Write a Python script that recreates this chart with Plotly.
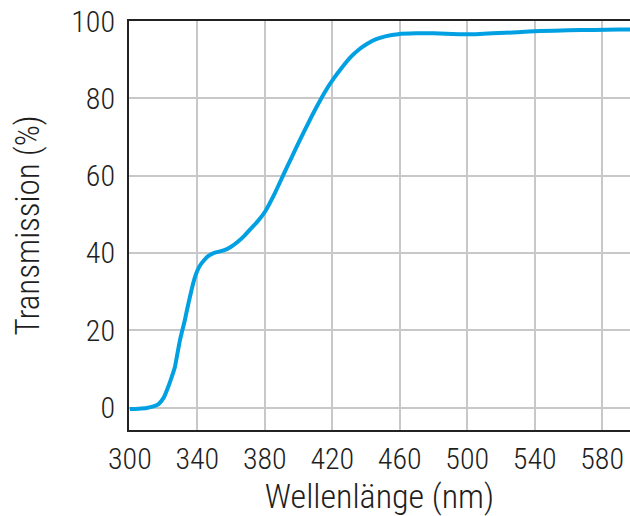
import plotly.graph_objects as go

wavelength = [300, 305, 310, 314, 317, 320, 322.6, 324.5, 326.6, 328, 329.6, 331, 332.5, 334,
              335.5, 337, 338.5, 340, 341.5, 344, 346.4, 350, 356, 360, 364, 368, 372, 376,
              380, 386, 391, 396, 401, 406, 411, 416, 421, 426, 431, 436, 441, 446, 452,
              459, 470, 480, 495, 505, 515, 530, 543, 560, 575, 590, 600]
transmission = [-0.4, -0.3, -0.1, 0.3, 0.9, 2.5, 5.2, 7.5, 10.3, 13.5, 17.2, 19.8, 22.4, 25.5,
                28.4, 31.2, 33.6, 35.4, 36.7, 38.1, 39.2, 40.0, 40.7, 41.6, 42.9, 44.5, 46.4, 48.3,
                50.6, 55.5, 60.2, 64.8, 69.4, 73.8, 78.0, 81.9, 85.2, 88.1, 90.7, 92.7, 94.2, 95.3, 96.1,
                96.6, 96.8, 96.8, 96.6, 96.6, 96.8, 97.1, 97.4, 97.6, 97.7, 97.8, 97.8]

x_ticks = [300, 340, 380, 420, 460, 500, 540, 580]
y_ticks = [0, 20, 40, 60, 80, 100]

FONT = "Roboto Condensed Light, Roboto Condensed, Liberation Sans Narrow, DejaVu Sans Condensed, Arial Narrow, sans-serif"
TXT = "#1e1e1e"

fig = go.Figure()
fig.add_trace(go.Scatter(
    x=wavelength, y=transmission, mode="lines",
    line=dict(color="#00a0e2", width=4, shape="spline", smoothing=0.6),
    hoverinfo="skip", showlegend=False,
))

fig.update_layout(
    width=630, height=516,
    margin=dict(l=129, r=0, t=21, b=86),
    paper_bgcolor="white", plot_bgcolor="white",
    font=dict(family=FONT, color=TXT, size=30, weight=300),
    xaxis=dict(
        range=[299.5, 596.5], tickvals=x_ticks, ticktext=[str(v) for v in x_ticks],
        showgrid=True, gridcolor="#c8c8c8", gridwidth=2,
        showline=True, linecolor="#222222", linewidth=2, mirror=True,
        zeroline=False, ticks="", ticklabelstandoff=1,
        tickfont=dict(size=30, family=FONT, color=TXT, weight=300),
        title=dict(text="Wellenlänge (nm)", font=dict(size=34, family=FONT, color=TXT, weight=300), standoff=4),
    ),
    yaxis=dict(
        range=[-5.8, 100], tickvals=y_ticks, ticktext=[str(v) for v in y_ticks],
        showgrid=True, gridcolor="#c8c8c8", gridwidth=2,
        showline=True, linecolor="#222222", linewidth=2,
        zeroline=False, ticks="", ticklabelstandoff=6,
        tickfont=dict(size=30, family=FONT, color=TXT, weight=300),
        title=dict(text="Transmission (%)", font=dict(size=33, family=FONT, color=TXT, weight=300), standoff=22),
    ),
)

fig.write_html("out.html", config={"displayModeBar": False},
               post_script="document.body.style.margin='0';document.body.style.overflow='hidden';")
